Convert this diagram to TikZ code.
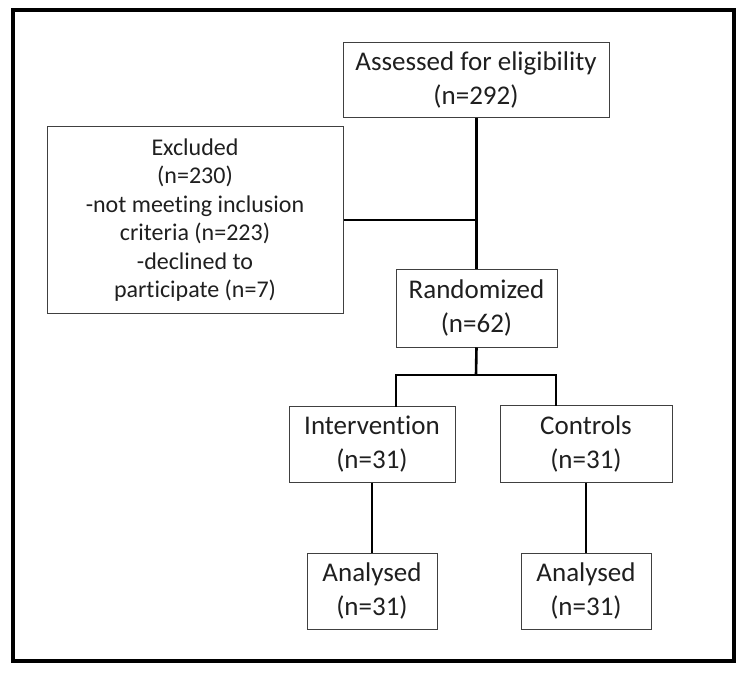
\documentclass[tikz,border=0pt]{standalone}
\usepackage{fontspec}
\setmainfont{Carlito}[Ligatures={NoCommon}]
\begin{document}
\begin{tikzpicture}[x=1pt,y=-1pt,
  box/.style={draw=black!75, line width=1pt, rectangle, inner sep=0pt, align=center, text=black!88,
    font=\fontsize{27}{34}\selectfont},
  conn/.style={line width=2.6pt, black}]
\useasboundingbox (0,0) rectangle (745,674);
\draw[line width=4pt] (12.5,10.5) rectangle (733.5,661);
\node[box, minimum width=266pt, minimum height=75pt] (assess) at (476,80) {Assessed for eligibility\\(n=292)};
\node[box, minimum width=296pt, minimum height=186pt, font=\fontsize{24}{28.5}\selectfont] (excl) at (195,220)
  {Excluded\\(n=230)\\-not meeting inclusion\\criteria (n=223)\\-declined to\\participate (n=7)};
\node[box, minimum width=161pt, minimum height=78pt] (rand) at (476.5,308) {Randomized\\(n=62)};
\node[box, minimum width=166pt, minimum height=75.5pt] (interv) at (372,444.25) {Intervention\\(n=31)};
\node[box, minimum width=172pt, minimum height=77pt] (ctrl) at (586,443.5) {Controls\\(n=31)};
\node[box, minimum width=130pt, minimum height=76pt] (an1) at (372,591) {Analysed\\(n=31)};
\node[box, minimum width=130pt, minimum height=76pt] (an2) at (586,591) {Analysed\\(n=31)};
\coordinate (split) at (476,375);
\coordinate (splitL) at (396,375);
\coordinate (splitR) at (556,375);
\draw[conn] (assess.south -| rand.north) -- (rand.north);
\draw[conn] (excl.east) -- (excl.east -| rand.north);
\draw[conn] (rand.south) -- (split);
\draw[conn, line cap=rect] (interv.north -| splitL) -- (splitL) -- (splitR) -- (ctrl.north -| splitR);
\draw[conn] (interv.south) -- (an1.north);
\draw[conn] (ctrl.south) -- (an2.north);
\end{tikzpicture}
\end{document}
